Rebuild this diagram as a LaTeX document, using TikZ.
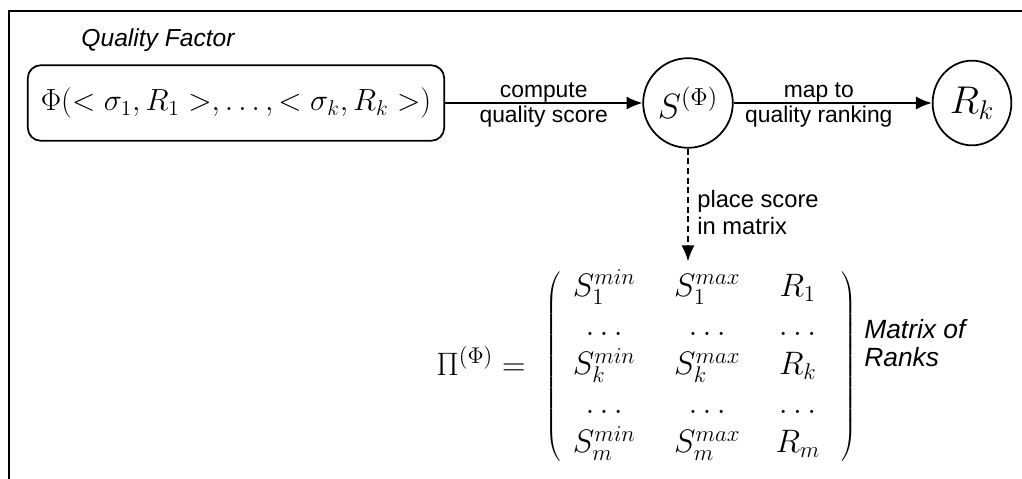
\RequirePackage{fix-cm}
\documentclass[tikz,border=0pt]{standalone}
\usepackage{fontspec}
\setsansfont{Liberation Sans}
\usetikzlibrary{arrows.meta,shapes.geometric,calc}
\begin{document}
\begin{tikzpicture}[x=0.02cm,y=-0.02cm,
  lab/.style={font=\sffamily\fontsize{13}{15}\selectfont, inner sep=0pt},
  itlab/.style={font=\sffamily\itshape\fontsize{15}{17}\selectfont, inner sep=0pt},
  qflab/.style={font=\sffamily\itshape\fontsize{14}{16}\selectfont, inner sep=0pt},
  edgearrow/.style={line width=1pt,-{Latex[length=9pt,width=7.5pt]}},
  dasharrow/.style={line width=0.9pt,dash pattern=on 3.5pt off 2pt,-{Latex[length=9pt,width=7.5pt]}},
  factorbox/.style={draw, line width=1pt, rounded corners=7.4pt, minimum width=237pt, minimum height=43pt, inner sep=0pt, font=\fontsize{17.4}{20}\selectfont},
  scorecirc/.style={draw, circle, line width=1pt, minimum size=51pt, inner sep=0pt, font=\fontsize{20}{24}\selectfont},
  rankell/.style={draw, ellipse, line width=1pt, minimum width=44.8pt, minimum height=48.2pt, inner sep=0pt, font=\fontsize{22}{26}\selectfont},
  ]
\useasboundingbox (0,0) rectangle (1022,479);
\draw[line width=1pt] (9,479) -- (9,11) -- (1022,11);

\node[qflab] (qf) at (158,40) {Quality Factor};
\node[factorbox] (phi) at (236,103) {$\Phi(<\sigma_1,R_1>,\ldots,<\sigma_k,R_k>)$};
\node[scorecirc] (S) at (688,103) {$S^{(\Phi)}$};
\node[rankell] (R) at (972,103) {$R_k$};

\draw[edgearrow] (phi.east) -- (S.west)
  node[lab, midway, anchor=base, yshift=3.4pt] (l1) {compute}
  node[lab, midway, anchor=base, yshift=-11.3pt] (l2) {quality score};
\draw[edgearrow] (S.east) -- (R.west)
  node[lab, pos=0.43, anchor=base, yshift=3.4pt] (l3) {map to}
  node[lab, pos=0.43, anchor=base, yshift=-11.3pt] (l4) {quality ranking};

\node[font=\fontsize{18.5}{22.2}\selectfont, inner sep=0pt, anchor=west] (pimat) at (436,367)
  {$\Pi^{(\Phi)} =\hskip 6pt \left(\begin{array}{@{\hskip 7pt}c@{\hskip 22pt}c@{\hskip 20pt}c@{\hskip 12pt}}
  S_1^{min} & S_1^{max} & R_1\\
  \ldots & \ldots & \ldots\\
  S_k^{min} & S_k^{max} & R_k\\
  \ldots & \ldots & \ldots\\
  S_m^{min} & S_m^{max} & R_m
  \end{array}\right)$};

\draw[dasharrow, shorten >=4.5pt] (S.south) -- (S |- pimat.north);
\node[lab, font=\sffamily\fontsize{13.5}{16}\selectfont, anchor=base west] (pl1) at (697,208) {place score};
\node[lab, font=\sffamily\fontsize{13.5}{16}\selectfont, anchor=base west] (pl2) at (697,235) {in matrix};

\node[itlab, anchor=base west] (mr1) at (864,339) {Matrix of};
\node[itlab, anchor=base west] (mr2) at (864,367) {Ranks};
\end{tikzpicture}
\end{document}
